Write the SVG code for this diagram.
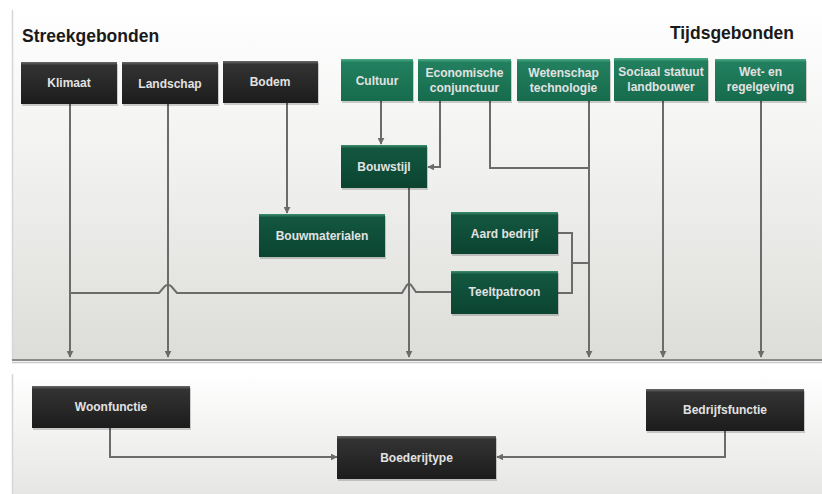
<svg xmlns="http://www.w3.org/2000/svg" width="822" height="494" viewBox="0 0 822 494">
<defs>
<linearGradient id="panelTop" x1="0" y1="0" x2="0" y2="1">
<stop offset="0" stop-color="#ffffff"/>
<stop offset="0.45" stop-color="#f1f1f0"/>
<stop offset="1" stop-color="#dcdcd8"/>
</linearGradient>
<linearGradient id="panelBot" x1="0" y1="0" x2="0" y2="1">
<stop offset="0" stop-color="#ffffff"/>
<stop offset="1" stop-color="#e6e6e4"/>
</linearGradient>
<linearGradient id="gDark" x1="0" y1="0" x2="0" y2="1">
<stop offset="0" stop-color="#6a6a6a"/>
<stop offset="0.08" stop-color="#333333"/>
<stop offset="1" stop-color="#1c1c1c"/>
</linearGradient>
<linearGradient id="gGreen" x1="0" y1="0" x2="0" y2="1">
<stop offset="0" stop-color="#4fae8a"/>
<stop offset="0.08" stop-color="#22805f"/>
<stop offset="1" stop-color="#176b4d"/>
</linearGradient>
<linearGradient id="gDeep" x1="0" y1="0" x2="0" y2="1">
<stop offset="0" stop-color="#3f8f70"/>
<stop offset="0.08" stop-color="#135740"/>
<stop offset="1" stop-color="#0b4431"/>
</linearGradient>
<marker id="arr" viewBox="0 0 10 10" refX="9" refY="5" markerWidth="7" markerHeight="7" markerUnits="userSpaceOnUse" orient="auto">
<path d="M0,0 L10,5 L0,10 z" fill="#6b6b6b"/>
</marker>
</defs>
<style>
.title{font-family:"Liberation Sans",Arial,sans-serif;font-weight:bold;font-size:17.5px;fill:#1a1a1a}
.lbl{font-family:"Liberation Sans",Arial,sans-serif;font-weight:bold;font-size:12px;fill:#e2e2e2;text-anchor:middle}
.dark{fill:url(#gDark)}
.green{fill:url(#gGreen)}
.deep{fill:url(#gDeep)}
.shadow{fill:#000;opacity:0.18}
.conn path{fill:none;stroke:#6b6b6b;stroke-width:2}
</style>

<!-- panels -->
<rect x="12" y="8" width="810" height="352" fill="url(#panelTop)"/>
<line x1="12.5" y1="10" x2="12.5" y2="360" stroke="#d6d6d6" stroke-width="1.5"/>
<line x1="12" y1="360" x2="822" y2="360" stroke="#8a8a8a" stroke-width="2"/>
<line x1="12" y1="362.5" x2="822" y2="362.5" stroke="#c8c8c8" stroke-width="1.5"/>
<rect x="12" y="373" width="810" height="121" fill="url(#panelBot)"/>
<line x1="12.5" y1="374" x2="12.5" y2="494" stroke="#d6d6d6" stroke-width="1.5"/>

<text class="title" x="22" y="42">Streekgebonden</text>
<text class="title" x="794" y="39" text-anchor="end">Tijdsgebonden</text>

<!-- connectors -->
<g id="connectors" class="conn">
<path d="M70,104 V357" marker-end="url(#arr)"/>
<path d="M168,104 V357" marker-end="url(#arr)"/>
<path d="M287,103 V213" marker-end="url(#arr)"/>
<path d="M381,101 V144" marker-end="url(#arr)"/>
<path d="M440,101 V167 H428" marker-end="url(#arr)"/>
<path d="M490,101 V168 H589"/>
<path d="M589,101 V357" marker-end="url(#arr)"/>
<path d="M663,101 V357" marker-end="url(#arr)"/>
<path d="M761,101 V357" marker-end="url(#arr)"/>
<path d="M409,187 V357" marker-end="url(#arr)"/>
<path d="M558,233 H572 V293 H558"/>
<path d="M572,263 H589"/>
<path d="M451,292 H416 L411,285 Q409,283 407,285 L402,293 H177 L171,286 Q168,284 165,286 L159,293 H70"/>
<path d="M110,428 V457 H337" marker-end="url(#arr)"/>
<path d="M725,430 V457 H497" marker-end="url(#arr)"/>
</g>

<!-- nodes -->
<g id="klimaat">
<rect class="shadow" x="22" y="64" width="96" height="42"/>
<rect class="dark" x="21" y="62" width="96" height="42"/>
<text class="lbl" x="69" y="87">Klimaat</text>
</g>
<g id="landschap">
<rect class="shadow" x="123" y="64" width="96" height="42"/>
<rect class="dark" x="122" y="62" width="96" height="42"/>
<text class="lbl" x="170" y="88">Landschap</text>
</g>
<g id="bodem">
<rect class="shadow" x="224" y="63" width="95" height="42"/>
<rect class="dark" x="223" y="61" width="95" height="42"/>
<text class="lbl" x="270" y="86">Bodem</text>
</g>
<g id="cultuur">
<rect class="shadow" x="342" y="61" width="72" height="42"/>
<rect class="green" x="341" y="59" width="72" height="42"/>
<text class="lbl" x="377" y="85">Cultuur</text>
</g>
<g id="economische">
<rect class="shadow" x="419" y="61" width="93" height="42"/>
<rect class="green" x="418" y="59" width="93" height="42"/>
<text class="lbl" x="464.5" y="77">Economische</text>
<text class="lbl" x="464.5" y="92">conjunctuur</text>
</g>
<g id="wetenschap">
<rect class="shadow" x="518" y="61" width="93" height="42"/>
<rect class="green" x="517" y="59" width="93" height="42"/>
<text class="lbl" x="563.5" y="77">Wetenschap</text>
<text class="lbl" x="563.5" y="92">technologie</text>
</g>
<g id="sociaal">
<rect class="shadow" x="615" y="60" width="94" height="43"/>
<rect class="green" x="614" y="58" width="94" height="43"/>
<text class="lbl" x="661" y="76">Sociaal statuut</text>
<text class="lbl" x="661" y="91">landbouwer</text>
</g>
<g id="wetgeving">
<rect class="shadow" x="716" y="61" width="91" height="42"/>
<rect class="green" x="715" y="59" width="91" height="42"/>
<text class="lbl" x="760.5" y="76">Wet- en</text>
<text class="lbl" x="760.5" y="91">regelgeving</text>
</g>
<g id="bouwstijl">
<rect class="shadow" x="342" y="147" width="86" height="43"/>
<rect class="deep" x="341" y="145" width="86" height="43"/>
<text class="lbl" x="384" y="171">Bouwstijl</text>
</g>
<g id="bouwmaterialen">
<rect class="shadow" x="260" y="216" width="126" height="43"/>
<rect class="deep" x="259" y="214" width="126" height="43"/>
<text class="lbl" x="322" y="240">Bouwmaterialen</text>
</g>
<g id="aardbedrijf">
<rect class="shadow" x="452" y="214" width="107" height="42"/>
<rect class="deep" x="451" y="212" width="107" height="42"/>
<text class="lbl" x="504.5" y="238">Aard bedrijf</text>
</g>
<g id="teeltpatroon">
<rect class="shadow" x="452" y="273" width="107" height="43"/>
<rect class="deep" x="451" y="271" width="107" height="43"/>
<text class="lbl" x="504.5" y="296">Teeltpatroon</text>
</g>
<g id="woonfunctie">
<rect class="shadow" x="33" y="388" width="158" height="42"/>
<rect class="dark" x="32" y="386" width="158" height="42"/>
<text class="lbl" x="111" y="411">Woonfunctie</text>
</g>
<g id="bedrijfsfunctie">
<rect class="shadow" x="647" y="391" width="158" height="42"/>
<rect class="dark" x="646" y="389" width="158" height="42"/>
<text class="lbl" x="725" y="414">Bedrijfsfunctie</text>
</g>
<g id="boederijtype">
<rect class="shadow" x="338" y="438" width="159" height="43"/>
<rect class="dark" x="337" y="436" width="159" height="43"/>
<text class="lbl" x="416.5" y="462">Boederijtype</text>
</g>
</svg>
